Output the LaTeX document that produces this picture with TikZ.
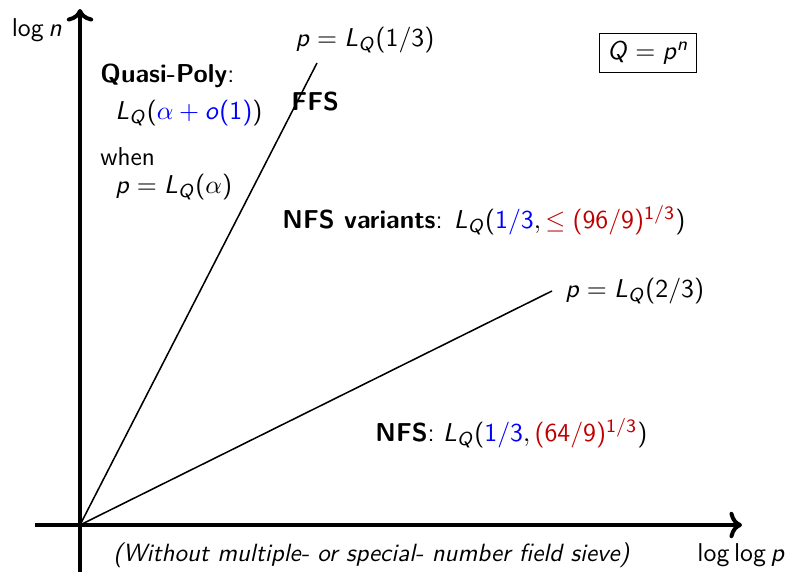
\documentclass[tikz,border=0pt]{standalone}
\usepackage{tikz}
\usetikzlibrary{positioning, arrows.meta}
\renewcommand{\familydefault}{\sfdefault}
% sans serif letters and digits in math
\SetSymbolFont{operators}{normal}{OT1}{cmss}{m}{n}
\DeclareSymbolFont{sfletters}{OT1}{cmss}{m}{sl}
\DeclareMathSymbol{p}{\mathalpha}{sfletters}{`p}
\DeclareMathSymbol{n}{\mathalpha}{sfletters}{`n}
\DeclareMathSymbol{o}{\mathalpha}{sfletters}{`o}
\DeclareMathSymbol{L}{\mathalpha}{sfletters}{`L}
\DeclareMathSymbol{Q}{\mathalpha}{sfletters}{`Q}
\DeclareMathSymbol{/}{\mathord}{operators}{`/}

\begin{document}
\begin{tikzpicture}[
    x=0.425pt, y=0.425pt,
    font=\fontsize{11}{13}\selectfont,
    axis/.style={line width=1.7pt, ->},
    bound/.style={draw, line width=0.65pt},
    lbl/.style={anchor=west, inner sep=0pt},
    keybox/.style={draw, line width=0.4pt, inner sep=3.5pt},
  ]
\useasboundingbox (0,0) rectangle (789,572);

\coordinate (O) at (80,47);
\coordinate (ybot) at (80,0);
\coordinate (ytop) at (80,563);
\coordinate (xleft) at (35,47);
\coordinate (xright) at (742,47);
\coordinate (third) at (317,509);
\coordinate (twothird) at (552,281);

% axes
\draw[axis] (ybot) -- (ytop);
\draw[axis] (xleft) -- (xright);

% boundaries
\draw[bound] (O) -- (third);
\draw[bound] (O) -- (twothird);

\node (logn) at (37,542) {$\log n$};
\node (loglogp) [lbl] at (697,17) {$\log\log p$};
\node (thirdlbl) at (365,532) {$p = L_Q(1/3)$};
\node (twothirdlbl) [lbl] at (565,281) {$p = L_Q(2/3)$};
\node (key) [keybox] at (648,519) {$Q = p^n$};

% regions
\node (qp) [lbl] at (100,496) {\textbf{Quasi-Poly}:};
\node (qpcost) [lbl] at (115,459) {$L_Q(\textcolor{blue}{\alpha + o(1)})$};
\node (when) [lbl] at (100,415) {when};
\node (whenp) [lbl] at (115,385) {$p = L_Q(\alpha)$};
\node (ffs) [lbl] at (291,470) {\textbf{FFS}};
\node (nfsv) [lbl] at (282,352) {\textbf{NFS variants}: $L_Q(\textcolor{blue}{1/3}, \textcolor{red!75!black}{\leq (96/9)^{1/3}})$};
\node (nfs) [lbl] at (375,139) {\textbf{NFS}: $L_Q(\textcolor{blue}{1/3}, \textcolor{red!75!black}{(64/9)^{1/3}})$};
\node (note) [lbl, font=\fontsize{10.6}{12}\selectfont] at (113,17) {\textit{(Without multiple- or special- number field sieve)}};
\end{tikzpicture}
\end{document}
